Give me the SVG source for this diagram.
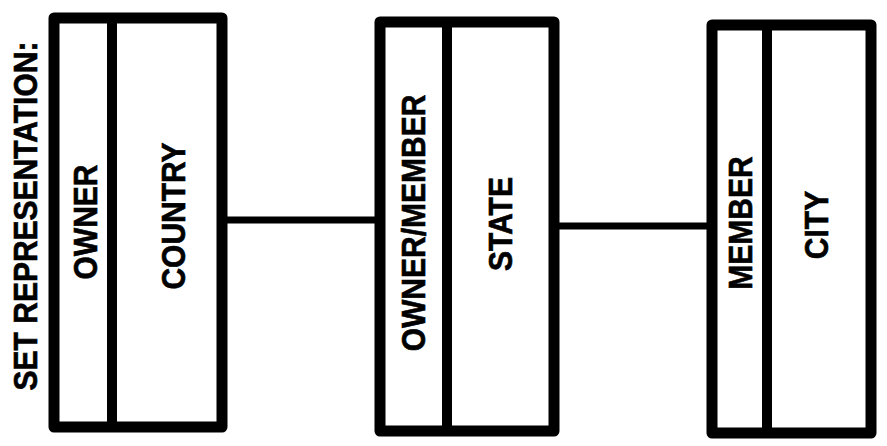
<svg xmlns="http://www.w3.org/2000/svg" width="887" height="446" viewBox="0 0 887 446">
<style>
.box{fill:#fff;stroke:#000;stroke-width:11;stroke-linejoin:round}
.div{stroke:#000;stroke-width:10}
.conn{stroke:#000;stroke-width:7}
text{font-family:"Liberation Sans",Arial,sans-serif;font-weight:bold;font-size:30px;fill:#000;text-anchor:middle;stroke:#000;stroke-width:0.6}
</style>
<rect width="887" height="446" fill="#fff"/>
<text transform="translate(37,216) rotate(-90) scale(1,1.08)">SET REPRESENTATION:</text>
<g id="connectors">
<line class="conn" x1="222" y1="220" x2="380" y2="220"/>
<line class="conn" x1="554" y1="226" x2="712" y2="226"/>
</g>
<g id="country">
<rect class="box" x="54" y="18" width="168" height="409"/>
<line class="div" x1="112" y1="18" x2="112" y2="427"/>
<text transform="translate(97,222) rotate(-90) scale(1,1.08)">OWNER</text>
<text transform="translate(185,216) rotate(-90) scale(1,1.08)">COUNTRY</text>
</g>
<g id="state">
<rect class="box" x="380" y="22" width="174" height="409"/>
<line class="div" x1="447" y1="22" x2="447" y2="431"/>
<text transform="translate(425,223) rotate(-90) scale(1,1.08)">OWNER/MEMBER</text>
<text transform="translate(512,224) rotate(-90) scale(1,1.08)">STATE</text>
</g>
<g id="city">
<rect class="box" x="712" y="25" width="159" height="408"/>
<line class="div" x1="767" y1="25" x2="767" y2="433"/>
<text transform="translate(752,223) rotate(-90) scale(1,1.08)">MEMBER</text>
<text transform="translate(828,225) rotate(-90) scale(1,1.08)">CITY</text>
</g>
</svg>
